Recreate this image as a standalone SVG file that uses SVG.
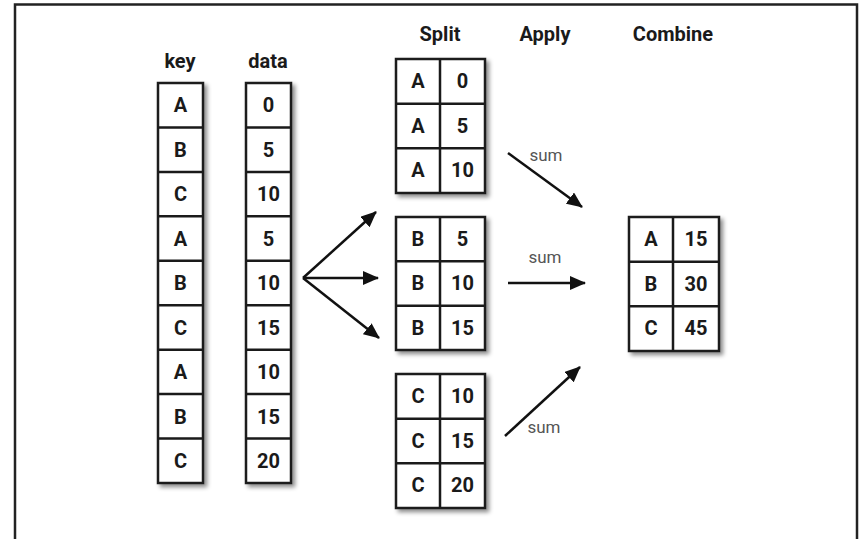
<svg xmlns="http://www.w3.org/2000/svg" width="861" height="539" viewBox="0 0 861 539">
<defs>
<filter id="sh" x="-20%" y="-10%" width="150%" height="130%">
<feDropShadow dx="3" dy="3" stdDeviation="2" flood-color="#000" flood-opacity="0.45"/>
</filter>
<marker id="ah" markerUnits="userSpaceOnUse" markerWidth="16" markerHeight="14" refX="15" refY="7" orient="auto">
<path d="M0,0 L16,7 L0,14 Z" fill="#111"/>
</marker>
<style>
.box{fill:#fff;stroke:#1a1a1a;stroke-width:2.5}
.ln{stroke:#1a1a1a;stroke-width:2.5;fill:none}
.t{font-family:Roboto,'Liberation Sans',sans-serif;font-weight:bold;font-size:20px;fill:#1a1a1a;text-anchor:middle}
.h{font-size:20px}
.s{font-family:Roboto,'Liberation Sans',sans-serif;font-size:17px;fill:#555;text-anchor:middle}
.arr{stroke:#111;stroke-width:2.5;fill:none;marker-end:url(#ah)}
</style>
</defs>
<rect width="861" height="539" fill="#fff"/>
<rect x="15" y="4.5" width="842" height="560" fill="none" stroke="#222" stroke-width="2.5"/>

<g id="labels">
<text class="t h" x="180" y="68">key</text>
<text class="t h" x="268" y="68">data</text>
<text class="t h" x="440" y="41">Split</text>
<text class="t h" x="545" y="41">Apply</text>
<text class="t h" x="673" y="41">Combine</text>
</g>

<g id="key">
<rect class="box" x="158" y="83" width="45" height="400" filter="url(#sh)"/>
<path class="ln" d="M158,127.4H203M158,171.9H203M158,216.3H203M158,260.8H203M158,305.2H203M158,349.7H203M158,394.1H203M158,438.6H203"/>
<text class="t" x="180.5" y="112">A</text>
<text class="t" x="180.5" y="156.5">B</text>
<text class="t" x="180.5" y="201">C</text>
<text class="t" x="180.5" y="245.5">A</text>
<text class="t" x="180.5" y="290">B</text>
<text class="t" x="180.5" y="334.5">C</text>
<text class="t" x="180.5" y="379">A</text>
<text class="t" x="180.5" y="423.5">B</text>
<text class="t" x="180.5" y="468">C</text>
</g>

<g id="data">
<rect class="box" x="246" y="83" width="45" height="400" filter="url(#sh)"/>
<path class="ln" d="M246,127.4H291M246,171.9H291M246,216.3H291M246,260.8H291M246,305.2H291M246,349.7H291M246,394.1H291M246,438.6H291"/>
<text class="t" x="268.5" y="112">0</text>
<text class="t" x="268.5" y="156.5">5</text>
<text class="t" x="268.5" y="201">10</text>
<text class="t" x="268.5" y="245.5">5</text>
<text class="t" x="268.5" y="290">10</text>
<text class="t" x="268.5" y="334.5">15</text>
<text class="t" x="268.5" y="379">10</text>
<text class="t" x="268.5" y="423.5">15</text>
<text class="t" x="268.5" y="468">20</text>
</g>

<g id="splitA">
<rect class="box" x="396" y="59" width="89" height="134" filter="url(#sh)"/>
<path class="ln" d="M396,103.7H485M396,148.3H485M440,59V193"/>
<text class="t" x="418" y="88">A</text>
<text class="t" x="462.5" y="88">0</text>
<text class="t" x="418" y="132.5">A</text>
<text class="t" x="462.5" y="132.5">5</text>
<text class="t" x="418" y="177">A</text>
<text class="t" x="462.5" y="177">10</text>
</g>

<g id="splitB">
<rect class="box" x="396" y="217" width="89" height="133" filter="url(#sh)"/>
<path class="ln" d="M396,261.3H485M396,305.7H485M440,217V350"/>
<text class="t" x="418" y="246">B</text>
<text class="t" x="462.5" y="246">5</text>
<text class="t" x="418" y="290">B</text>
<text class="t" x="462.5" y="290">10</text>
<text class="t" x="418" y="334.5">B</text>
<text class="t" x="462.5" y="334.5">15</text>
</g>

<g id="splitC">
<rect class="box" x="396" y="374" width="89" height="134" filter="url(#sh)"/>
<path class="ln" d="M396,418.7H485M396,463.3H485M440,374V508"/>
<text class="t" x="418" y="403">C</text>
<text class="t" x="462.5" y="403">10</text>
<text class="t" x="418" y="447.5">C</text>
<text class="t" x="462.5" y="447.5">15</text>
<text class="t" x="418" y="492">C</text>
<text class="t" x="462.5" y="492">20</text>
</g>

<g id="combine">
<rect class="box" x="629" y="217" width="90" height="134" filter="url(#sh)"/>
<path class="ln" d="M629,261.7H719M629,306.3H719M673,217V351"/>
<text class="t" x="651" y="246">A</text>
<text class="t" x="696" y="246">15</text>
<text class="t" x="651" y="290.5">B</text>
<text class="t" x="696" y="290.5">30</text>
<text class="t" x="651" y="335">C</text>
<text class="t" x="696" y="335">45</text>
</g>

<g id="connectors">
<path class="arr" d="M303,278L376,212"/>
<path class="arr" d="M303,278L378,278"/>
<path class="arr" d="M303,278L379,338"/>
<path class="arr" d="M508,153L582,207"/>
<path class="arr" d="M508,283L585,283"/>
<path class="arr" d="M505,436L580,367"/>
<text class="s" x="546" y="161">sum</text>
<text class="s" x="545" y="263">sum</text>
<text class="s" x="544" y="433">sum</text>
</g>
</svg>
